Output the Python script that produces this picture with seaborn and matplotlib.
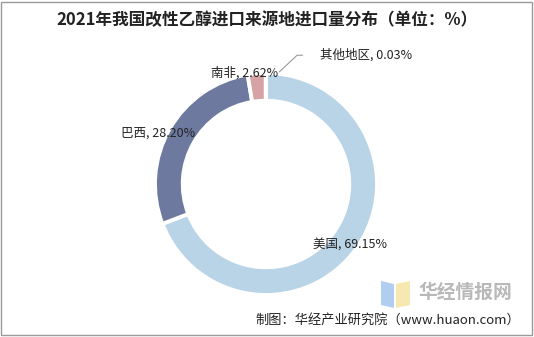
import matplotlib
matplotlib.use("Agg")
import matplotlib.pyplot as plt
import seaborn as sns
from matplotlib.patches import Rectangle, Polygon

sns.set_theme(style="white")
plt.rcParams['font.family'] = ['Noto Sans CJK SC', 'DejaVu Sans']

title = "2021年我国改性乙醇进口来源地进口量分布（单位：%）"
categories = ["美国", "巴西", "南非", "其他地区"]
values = [69.15, 28.20, 2.62, 0.03]
colors = ["#B9D4E6", "#6E79A0", "#D6A3A5", "#9DB0C8"]
source = "制图：华经产业研究院（www.huaon.com）"
watermark = "华经情报网"

W, H = 534, 337
fig = plt.figure(figsize=(W / 100, H / 100), dpi=100)
fig.patch.set_facecolor("white")

cx, cy, R = 266, 184, 111
ax = fig.add_axes([(cx - R) / W, (H - cy - R) / H, 2 * R / W, 2 * R / H])

ax.pie(values, colors=colors, startangle=90, counterclock=False, radius=1.0,
       wedgeprops=dict(width=0.25, edgecolor="white", linewidth=2.8))
ax.set_xlim(-1, 1)
ax.set_ylim(-1, 1)
ax.set_aspect("equal")
ax.axis("off")

labels = [f"{c}, {v:.2f}%" for c, v in zip(categories, values)]
label_pos = [(0.76, -0.55), (-0.97, 0.46), (-0.19, 1.0), (0.90, 1.16)]
for lab, (x, y) in zip(labels, label_pos):
    ax.text(x, y, lab, ha="center", va="center", fontsize=9, color="#222222")
ax.plot([0.12, 0.28, 0.33], [1.01, 1.16, 1.16], color="#999999", lw=0.8, clip_on=False)

fig.text(0.5, (H - 20) / H, title, ha="center", va="center", fontsize=12,
         fontweight="bold", color="#222222")

# watermark logo + text
fig.patches.append(Polygon([(381 / W, (H - 281) / H), (394 / W, (H - 284) / H),
                            (394 / W, (H - 308) / H), (381 / W, (H - 305) / H)],
                           closed=True, transform=fig.transFigure,
                           facecolor="#A9C8EE", edgecolor="none", alpha=0.9))
fig.patches.append(Polygon([(396 / W, (H - 284) / H), (410 / W, (H - 281) / H),
                            (410 / W, (H - 305) / H), (396 / W, (H - 308) / H)],
                           closed=True, transform=fig.transFigure,
                           facecolor="#F4E6A8", edgecolor="none", alpha=0.9))
fig.text(465 / W, (H - 292) / H, watermark, ha="center", va="center",
         fontsize=13.5, color="#B8B8B8", fontweight="bold")

fig.text(255 / W, (H - 320) / H, source,
         ha="left", va="center", fontsize=9.5, color="#222222")

fig.patches.append(Rectangle((1 / W, 2 / H), (W - 3) / W, (H - 4) / H,
                             transform=fig.transFigure, fill=False,
                             edgecolor="#9A9A9A", linewidth=1))

fig.savefig("out.png", dpi=100)
